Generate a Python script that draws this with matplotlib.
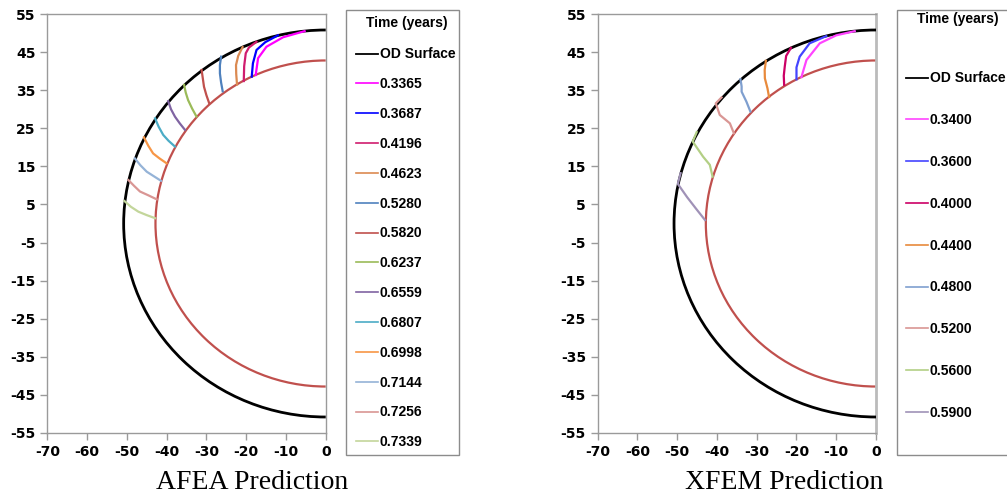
import matplotlib
matplotlib.use("Agg")
import matplotlib.pyplot as plt
from matplotlib.patches import Arc, Rectangle
from matplotlib.lines import Line2D

# ---------------- data ----------------
od_radius = 50.8
id_radius = 42.8
od_color = "black"
id_color = "#C0504D"

afea_times = ["0.3365", "0.3687", "0.4196", "0.4623", "0.5280", "0.5820",
              "0.6237", "0.6559", "0.6807", "0.6998", "0.7144", "0.7256", "0.7339"]
afea_colors = ["#FF00FF", "#0000FF", "#D01C6E", "#DB8A52", "#4F81BD", "#C0504D",
               "#9BBB59", "#8064A2", "#4BACC6", "#F79646", "#95B3D7", "#D99694", "#C3D69B"]
afea_crack_x = [
    [-5.3, -10.7, -14.9, -17.0, -17.6],
    [-12.0, -15.2, -17.4, -18.3, -18.6],
    [-17.4, -19.3, -20.1, -20.5, -20.6],
    [-20.9, -22.0, -22.55, -22.5, -22.3],
    [-26.3, -26.6, -26.6, -26.3, -25.9],
    [-31.2, -30.9, -30.6, -30.0, -29.3],
    [-35.6, -35.2, -34.6, -33.6, -32.5],
    [-39.6, -38.9, -37.9, -36.7, -35.4],
    [-42.9, -42.0, -40.85, -39.5, -37.9],
    [-45.7, -44.6, -43.4, -41.8, -40.0],
    [-48.0, -46.6, -45.0, -43.2, -41.4],
    [-49.6, -48.2, -46.7, -44.6, -42.5],
    [-50.6, -49.0, -47.1, -45.0, -42.9],
]
afea_crack_y = [
    [50.5, 48.9, 46.4, 43.4, 39.0],
    [49.4, 47.6, 45.55, 42.05, 38.55],
    [47.7, 46.2, 44.7, 41.3, 37.4],
    [46.3, 44.0, 41.6, 39.3, 36.5],
    [43.8, 41.6, 39.4, 37.0, 34.7],
    [40.3, 38.1, 35.9, 33.7, 31.6],
    [36.4, 34.4, 32.4, 30.2, 28.1],
    [32.1, 30.0, 28.05, 26.3, 24.6],
    [27.6, 25.4, 23.25, 21.7, 20.2],
    [22.6, 20.4, 18.4, 17.1, 15.8],
    [17.1, 15.3, 13.6, 12.4, 11.2],
    [11.4, 9.9, 8.4, 7.4, 6.35],
    [5.9, 4.4, 3.1, 2.2, 1.4],
]

xfem_times = ["0.3400", "0.3600", "0.4000", "0.4400", "0.4800", "0.5200", "0.5600", "0.5900"]
xfem_colors = ["#FF44FF", "#4444FF", "#CC0066", "#E88A3C", "#7F9FCF", "#D99694", "#B3CF85", "#A092B7"]
xfem_crack_x = [
    [-5.35, -10.0, -14.15, -17.5, -18.75],
    [-12.5, -16.7, -19.2, -20.0, -20.0],
    [-21.4, -22.6, -22.95, -23.2, -23.1],
    [-27.7, -28.0, -27.95, -27.3, -26.9],
    [-34.1, -33.8, -33.8, -32.6, -31.6],
    [-38.85, -40.3, -39.3, -36.75, -35.75],
    [-45.1, -46.1, -43.5, -41.8, -41.1],
    [-49.15, -49.85, -47.5, -45.2, -43.0],
]
xfem_crack_y = [
    [50.5, 49.4, 47.3, 42.9, 38.45],
    [49.2, 47.3, 43.8, 41.0, 37.85],
    [46.1, 44.0, 41.2, 38.8, 36.4],
    [42.7, 40.3, 38.1, 35.5, 33.2],
    [37.9, 36.0, 34.6, 32.0, 29.4],
    [33.1, 31.55, 28.5, 26.3, 23.7],
    [24.0, 21.5, 17.55, 15.4, 12.3],
    [13.2, 10.4, 6.9, 3.8, 0.9],
]

xticks = list(range(-70, 1, 10))
yticks = list(range(-55, 56, 10))

# ---------------- figure ----------------
W, H = 1007, 495
fig = plt.figure(figsize=(W / 100, H / 100), dpi=100)
fig.patch.set_facecolor("white")

tick_font = dict(family="DejaVu Sans", weight="bold", size=10)
leg_font = dict(family="Liberation Sans", weight="bold", size=10)
spine_color = "#9A9A9A"


def px(x, y):
    return x / W, 1 - y / H


def setup_axes(ax):
    ax.set_xlim(-70, 0)
    ax.set_ylim(-55, 55)
    ax.set_xticks(xticks)
    ax.set_yticks(yticks)
    ax.set_xticklabels([str(v) for v in xticks], fontdict=tick_font)
    ax.set_yticklabels([str(v) for v in yticks], fontdict=tick_font)
    for s in ax.spines.values():
        s.set_color(spine_color)
        s.set_linewidth(1.0)
    ax.tick_params(direction="out", length=5, width=1, color=spine_color, pad=3.5)
    ax.add_patch(Arc((0, 0), 2 * id_radius, 2 * id_radius, theta1=90, theta2=270,
                     color=id_color, lw=1.6, zorder=2))
    ax.add_patch(Arc((0, 0), 2 * od_radius, 2 * od_radius, theta1=90, theta2=270,
                     color=od_color, lw=2.0, zorder=3))


def add_legend(ax, times, colors, handle_x, first_row_center, spacing, title_xy, box):
    handles = [Line2D([], [], color=od_color, lw=1.3)] + \
              [Line2D([], [], color=c, lw=1.2) for c in colors]
    labels = ["OD Surface"] + times
    x0, y0 = px(handle_x, first_row_center - 7.5)
    fig.legend(handles, labels, loc="upper left", bbox_to_anchor=(x0, y0),
               bbox_transform=fig.transFigure, frameon=False, prop=leg_font,
               labelspacing=spacing, handlelength=1.55, handletextpad=0.15,
               borderpad=0, borderaxespad=0)
    tx, ty = px(*title_xy)
    fig.text(tx, ty, "Time (years)", ha="center", va="center", **leg_font)
    bx0, by0 = px(box[0], box[3])
    fig.patches.append(Rectangle((bx0, by0), (box[2] - box[0]) / W, (box[3] - box[1]) / H,
                                 transform=fig.transFigure, fill=False,
                                 edgecolor="#8C8C8C", lw=1.0))


# left panel
axL = fig.add_axes([47.3 / W, 1 - 433 / H, 278.4 / W, 419 / H])
setup_axes(axL)
for xs, ys, c, t in zip(afea_crack_x, afea_crack_y, afea_colors, afea_times):
    axL.plot(xs, ys, color=c, lw=1.6, label=t, zorder=4)
add_legend(axL, afea_times, afea_colors, 356, 55, 1.14, (407, 23), (346, 10, 459, 455))

# right panel
axR = fig.add_axes([597.7 / W, 1 - 433 / H, 278.3 / W, 419 / H])
setup_axes(axR)
axR.spines["right"].set_linewidth(2.0)
axR.spines["right"].set_color("#BBBBBB")
for xs, ys, c, t in zip(xfem_crack_x, xfem_crack_y, xfem_colors, xfem_times):
    axR.plot(xs, ys, color=c, lw=1.6, label=t, zorder=4)
add_legend(axR, xfem_times, xfem_colors, 906, 79, 2.0, (958, 19), (897, 10, 1012, 455))

# panel titles
for cx, txt in [(252, "AFEA Prediction"), (784, "XFEM Prediction")]:
    x, y = px(cx, 489.3)
    fig.text(x, y, txt, ha="center", va="baseline", family="Liberation Serif", size=20)

fig.savefig("out.png", dpi=100)
